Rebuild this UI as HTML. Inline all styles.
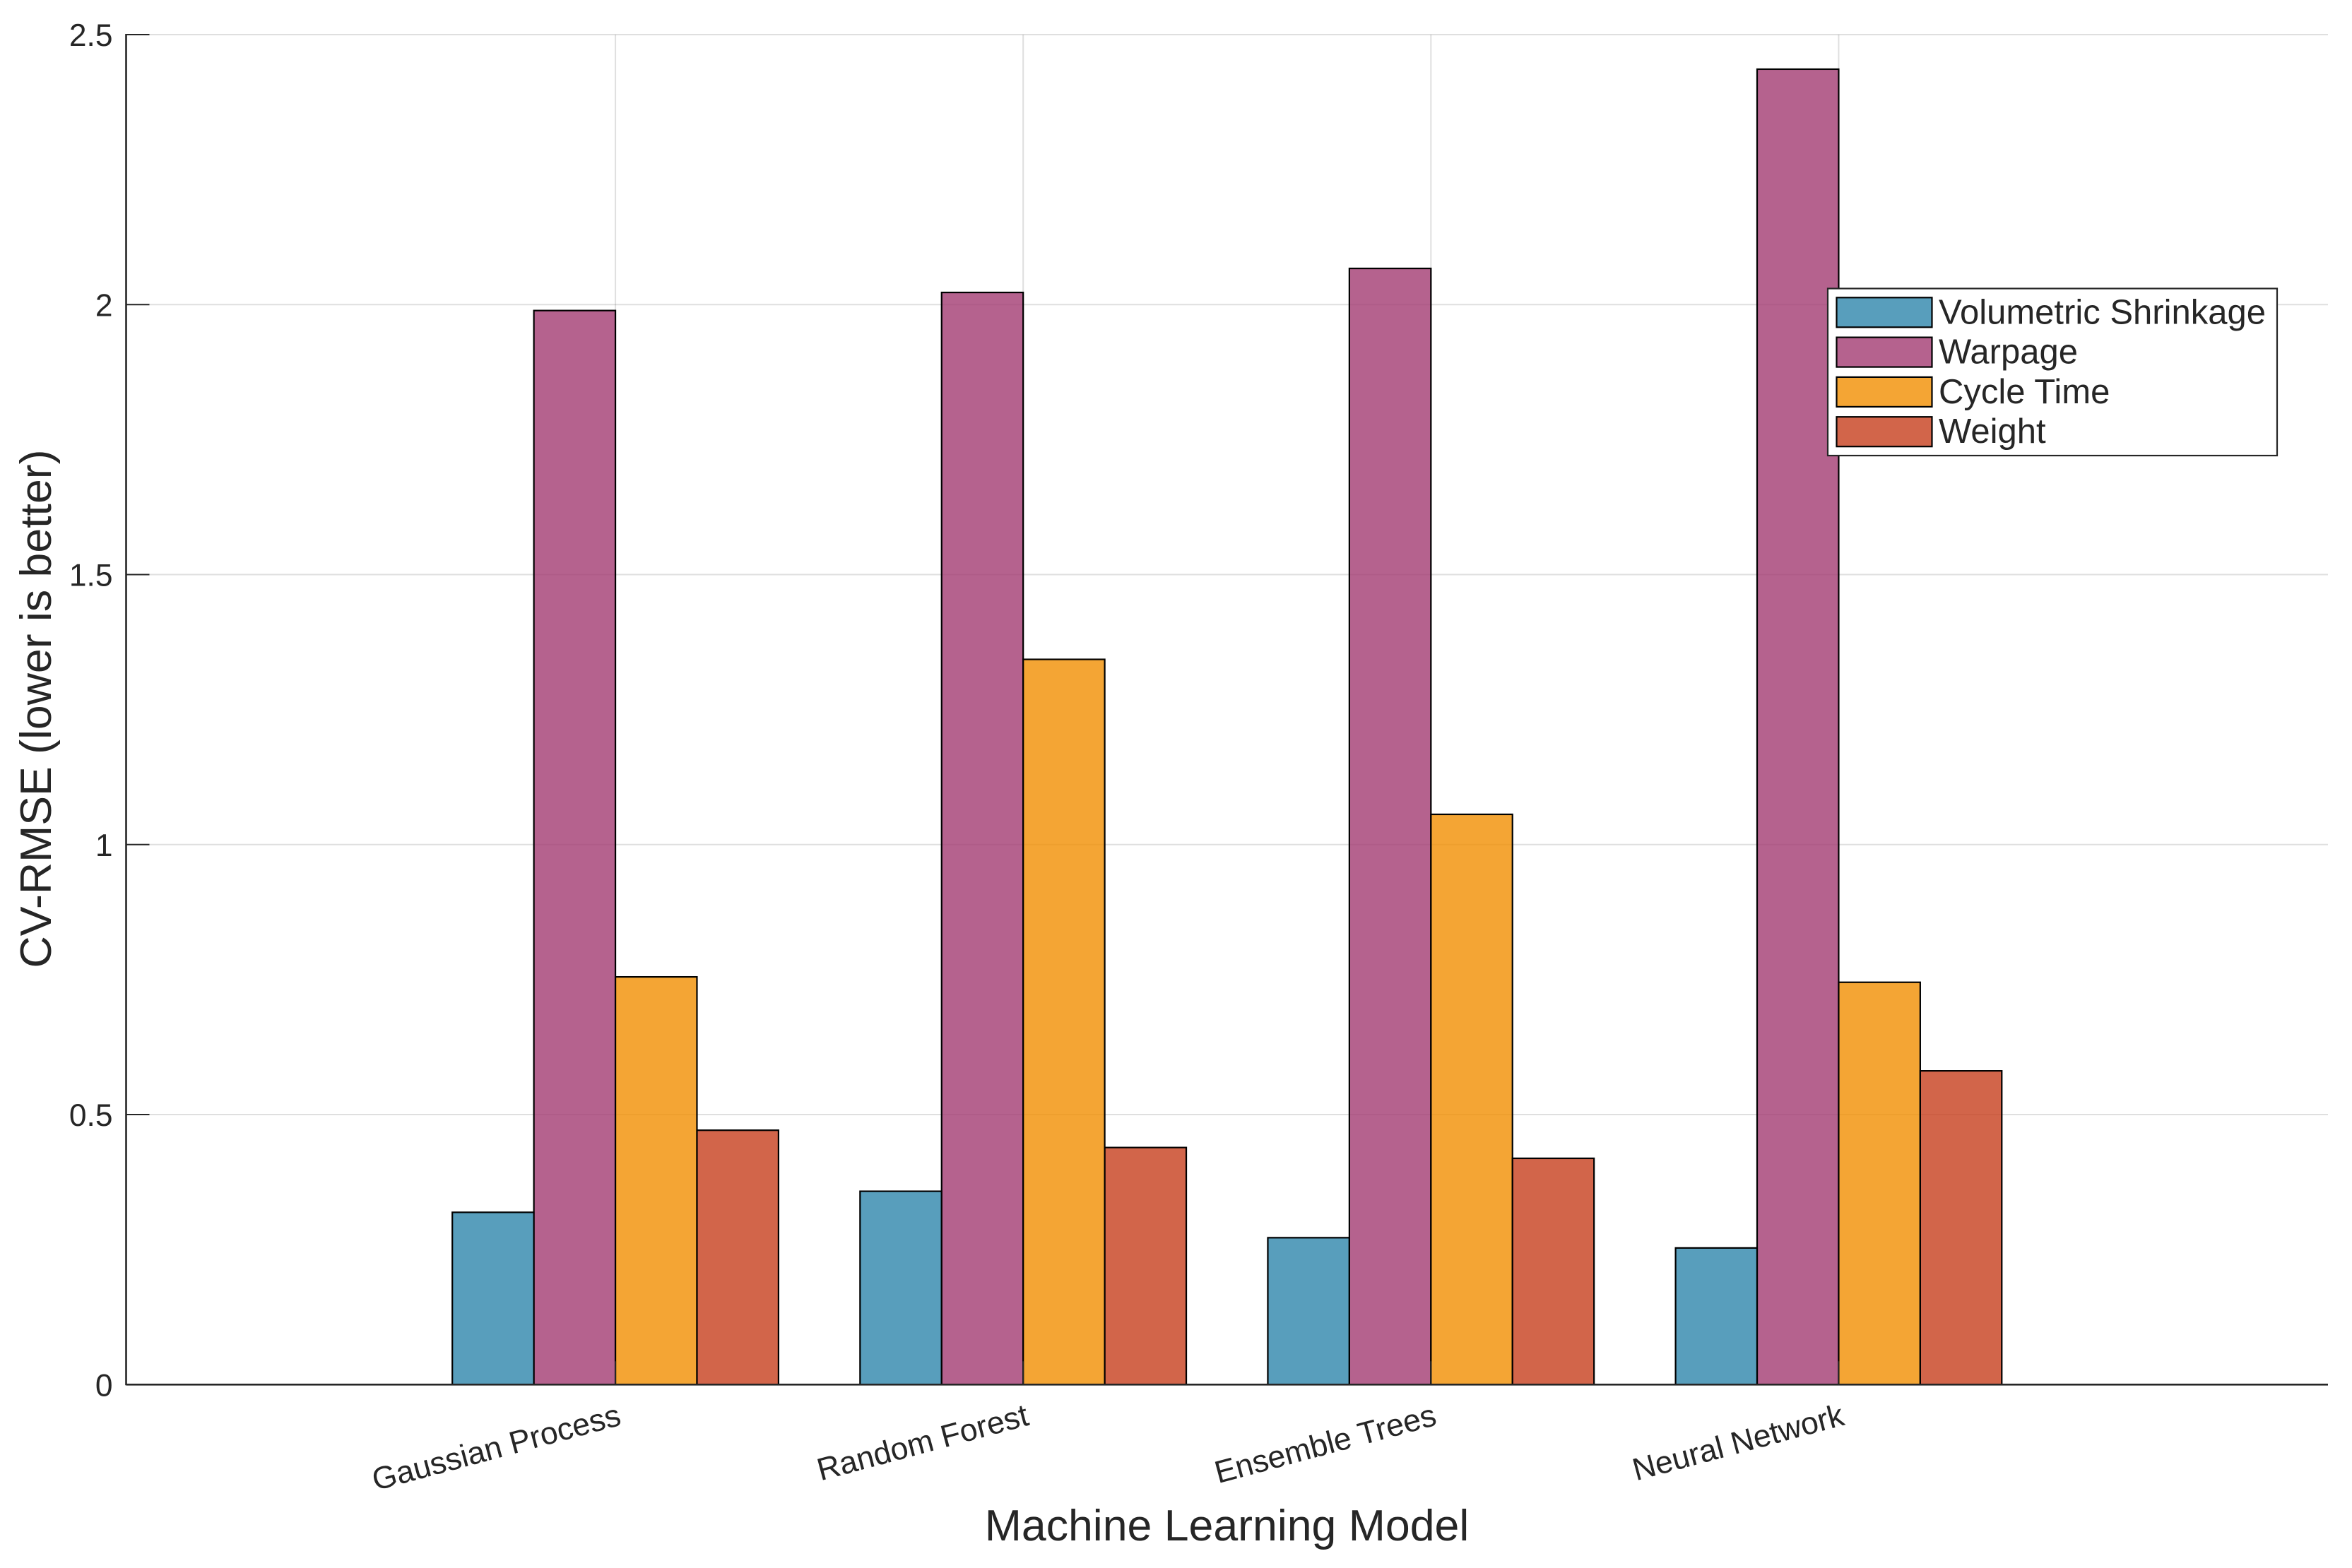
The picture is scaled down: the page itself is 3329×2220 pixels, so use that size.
<!DOCTYPE html>
<html lang="en">
<head>
<meta charset="utf-8">
<title>CV-RMSE by Machine Learning Model</title>
<style>
html,body{margin:0;padding:0;background:#fff;width:3329px;height:2220px;overflow:hidden}
svg{display:block}
text{font-family:"Liberation Sans",Arial,sans-serif;fill:#262626}
</style>
</head>
<body>
<svg id="chart" xmlns="http://www.w3.org/2000/svg" width="3329" height="2220" viewBox="0 0 3329 2220">
  <rect x="0" y="0" width="3329" height="2220" fill="#ffffff"/>
  <g id="grid"></g>
  <g id="bars"></g>
  <g id="axes"></g>
  <text x="1745" y="2181" font-size="62.6" text-anchor="middle" dx="-8.5">Machine Learning Model</text>
  <text transform="translate(72 1003.5) rotate(-90)" font-size="62.6" text-anchor="middle">CV-RMSE (lower is better)</text>
  <g id="legend"></g>
</svg>
<script>
const categories = ['Gaussian Process', 'Random Forest', 'Ensemble Trees', 'Neural Network'];
const seriesNames = ['Volumetric Shrinkage', 'Warpage', 'Cycle Time', 'Weight'];
const seriesColors = ['#2E86AB', '#A23B72', '#F18F01', '#C73E1D'];
const volumetricShrinkage = [0.319, 0.358, 0.272, 0.253];
const warpage = [1.989, 2.0225, 2.067, 2.436];
const cycleTime = [0.755, 1.343, 1.056, 0.745];
const weight = [0.471, 0.439, 0.419, 0.581];
const yTicks = [0, 0.5, 1, 1.5, 2, 2.5];
const yTickLabels = ['0', '0.5', '1', '1.5', '2', '2.5'];

const seriesValues = [volumetricShrinkage, warpage, cycleTime, weight];
const SVG_NS = 'http://www.w3.org/2000/svg';
const plot = { left: 178.5, right: 3295, top: 49, bottom: 1960.3 };
const xDomain = [-0.2, 5.2];
const yDomain = [0, 2.5];
const barWidthUnits = 0.2;

function xScale(v) {
  return plot.left + (v - xDomain[0]) / (xDomain[1] - xDomain[0]) * (plot.right - plot.left);
}
function yScale(v) {
  return plot.bottom - (v - yDomain[0]) / (yDomain[1] - yDomain[0]) * (plot.bottom - plot.top);
}
function make(tag, attrs, parent) {
  const el = document.createElementNS(SVG_NS, tag);
  for (const k in attrs) el.setAttribute(k, attrs[k]);
  parent.appendChild(el);
  return el;
}

const gridG = document.getElementById('grid');
const barsG = document.getElementById('bars');
const axesG = document.getElementById('axes');
const legendG = document.getElementById('legend');
const gridStyle = { stroke: '#262626', 'stroke-opacity': 0.15, 'stroke-width': 2 };

yTicks.forEach(function (t) {
  const y = yScale(t);
  const line = make('line', Object.assign({ x1: plot.left, x2: plot.right, y1: y, y2: y }, gridStyle), gridG);
  
  
});
categories.forEach(function (c, i) {
  const x = xScale(i + 1);
  const line = make('line', Object.assign({ x1: x, x2: x, y1: plot.top, y2: plot.bottom }, gridStyle), gridG);
  
  
});

seriesValues.forEach(function (values, s) {
  values.forEach(function (v, i) {
    const x0 = xScale(i + 1 + (s - 2) * barWidthUnits);
    const x1 = xScale(i + 1 + (s - 1) * barWidthUnits);
    const y = yScale(v);
    const bar = make('rect', {
      x: x0, y: y, width: x1 - x0, height: yScale(0) - y,
      fill: seriesColors[s], 'fill-opacity': 0.8,
      stroke: '#000000', 'stroke-width': 2.2
    }, barsG);
    
    
  });
});

const yAxisLine = make('line', { x1: plot.left, x2: plot.left, y1: plot.top - 1, y2: plot.bottom + 1, stroke: '#262626', 'stroke-width': 2.6 }, axesG);


const xAxisLine = make('line', { x1: plot.left, x2: plot.right, y1: plot.bottom, y2: plot.bottom, stroke: '#262626', 'stroke-width': 2.6 }, axesG);



yTicks.forEach(function (t, i) {
  const y = yScale(t);
  const tick = make('line', { x1: plot.left, x2: plot.left + 33, y1: y, y2: y, stroke: '#262626', 'stroke-width': 2 }, axesG);
  
  
  const label = make('text', { x: 159.5, y: y + 16, 'font-size': 44.3, 'text-anchor': 'end' }, axesG);
  
  
  label.textContent = yTickLabels[i];
});

categories.forEach(function (c, i) {
  const x = xScale(i + 1);
  const tick = make('line', { x1: x, x2: x, y1: plot.bottom, y2: plot.bottom - 33, stroke: '#262626', 'stroke-width': 2 }, axesG);
  
  
  const label = make('text', { transform: 'translate(' + (x + 10) + ' 2017) rotate(-15)', 'font-size': 44.6, 'text-anchor': 'end' }, axesG);
  
  
  label.textContent = c;
});

const legendBox = make('rect', { x: 2587, y: 408.5, width: 636, height: 236.5, fill: '#ffffff', stroke: '#262626', 'stroke-width': 2.2 }, legendG);


seriesNames.forEach(function (name, s) {
  const top = 421.3 + s * 56.3;
  const swatch = make('rect', { x: 2599.5, y: top, width: 135, height: 42, fill: seriesColors[s], 'fill-opacity': 0.8, stroke: '#000000', 'stroke-width': 2.2 }, legendG);
  
  
  const label = make('text', { x: 2744, y: top + 37, 'font-size': 49 }, legendG);
  
  
  label.textContent = name;
});
</script>
</body>
</html>
